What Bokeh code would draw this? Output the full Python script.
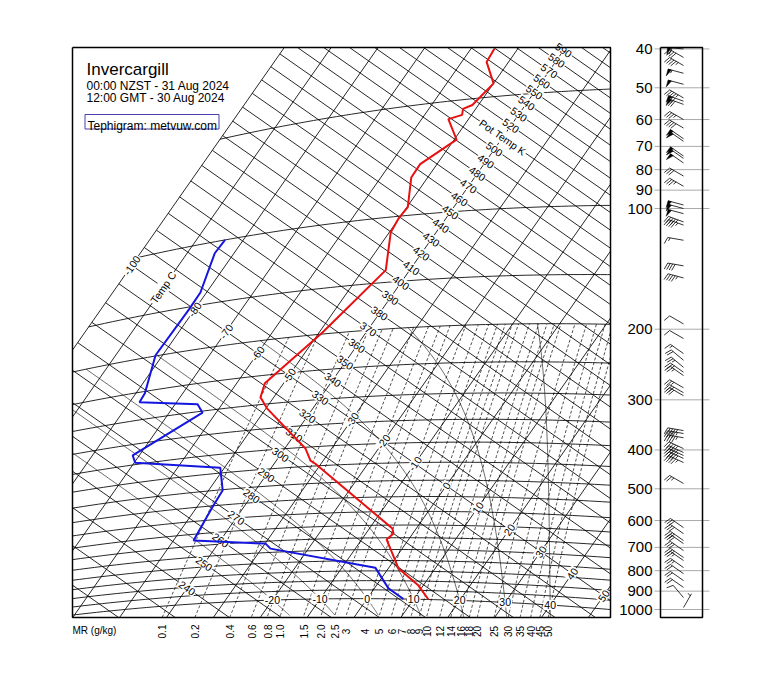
import numpy as np
from bokeh.plotting import figure
from bokeh.embed import file_html
from bokeh.resources import INLINE
from bokeh.core.properties import value

W, H = 760, 690
FONT = value("Liberation Sans")

# ---------------- sounding data ----------------
temp_p = [1000, 924, 838, 824, 707, 683, 663, 444, 435, 403, 309, 293, 287, 263, 198,
          139, 110, 101, 95, 79, 73, 64, 56, 55, 53, 52, 46, 40, 37]
temp_c = [13.2, 9.0, 2.2, 1.5, -4.7, -4.1, -5.1, -31.2, -32.7, -35.6, -49.7, -51.9, -52.8,
          -54.0, -49.3, -45.1, -49.7, -50.1, -49.8, -53.5, -53.6, -49.5, -54.3, -52.0,
          -52.7, -51.3, -50.0, -54.7, -55.0]
dewp_p = [1000, 941, 834, 733, 710, 676, 566, 502, 435, 395, 376, 303, 286, 267, 253,
          199, 152, 138, 108, 100]
dewp_c = [7.8, 3.0, -2.9, -28.1, -29.9, -45.7, -46.6, -47.0, -50.9, -69.8, -71.4, -62.9,
          -65.2, -77.9, -78.1, -81.5, -81.2, -81.3, -84.1, -83.9]

# winds (pressure hPa, direction deg, speed kt)
wind_p = [40, 42, 44, 46, 49, 53, 54, 55, 60, 63, 67, 68, 74, 75, 77, 83, 88, 98, 100,
          103, 108, 110, 120, 139, 149, 194, 211, 230, 239, 249, 256, 261, 280, 288, 293,
          358, 364, 373, 397, 406, 413, 420, 430, 485, 625, 647, 673, 685, 713, 742, 755,
          786, 814, 847, 881, 934, 989]
wind_dir = [275, 300, 300, 285, 285, 300, 290, 290, 300, 300, 305, 305, 305, 305, 305,
            300, 300, 285, 285, 285, 290, 290, 280, 280, 285, 300, 300, 305, 310, 310,
            305, 305, 300, 300, 300, 280, 280, 280, 295, 295, 295, 295, 295, 300, 305,
            305, 305, 305, 305, 305, 305, 305, 305, 305, 305, 320, 30]
wind_kt = [60, 40, 45, 55, 50, 45, 70, 70, 35, 40, 50, 50, 50, 50, 50, 30, 35, 50, 50,
           50, 45, 45, 15, 40, 45, 10, 10, 15, 20, 25, 25, 25, 25, 30, 30, 45, 45, 45,
           45, 45, 45, 45, 45, 25, 30, 30, 30, 30, 30, 25, 25, 25, 20, 20, 20, 10, 5]

# ---------------- chart furniture ----------------
isotherms = list(range(-100, 51, 10))
dry_adiabats = list(range(210, 621, 10))
isobars = [1000, 950, 900, 850, 800, 750, 700, 650, 600, 550, 500, 450, 400, 350, 300,
           250, 200, 150, 100, 50]
mixing_ratios = [0.1, 0.2, 0.4, 0.6, 0.8, 1.0, 1.5, 2.0, 2.5, 3, 4, 5, 6, 7, 8, 9, 10,
                 12, 14, 16, 18, 20, 25, 30, 35, 40, 45, 50]
mr_labels = ["0.1", "0.2", "0.4", "0.6", "0.8", "1.0", "1.5", "2.0", "2.5", "3", "4", "5",
             "6", "7", "8", "9", "10", "12", "14", "16", "18", "20", "25", "30", "35",
             "40", "45", "50"]
sat_adiabats = [-20, -10, 0, 10, 20, 30, 40]
pressure_labels = [40, 50, 60, 70, 80, 90, 100, 200, 300, 400, 500, 600, 700, 800, 900, 1000]
temp_label_vals = [-100, -90, -80, -70, -60, -50, -30, -20, -10, 0, 10, 20, 30, 40, 50]
theta_label_vals = list(range(240, 591, 10))

# ---------------- tephigram geometry ----------------
KAPPA = 0.2857
ALPHA = np.radians(35.0)
A_T = 3.84     # px per degC
B_L = 730.0    # px per unit ln(theta)
OX, OY = 320.0, 397.0   # screen position of T=-40C, theta=330K
BOX = (72.0, 610.0, 47.0, 617.0)


def teph(T, th):
    T = np.asarray(T, float)
    th = np.asarray(th, float)
    s = A_T * (T + 40.0)
    r = B_L * np.log(th / 330.0)
    X = OX + s * np.cos(ALPHA) + r * np.sin(ALPHA)
    Y = OY + s * np.sin(ALPHA) - r * np.cos(ALPHA)
    return X, Y


def theta(T, p):
    return (np.asarray(T, float) + 273.15) * (1000.0 / np.asarray(p, float)) ** KAPPA


def es(Tc):
    return 6.112 * np.exp(17.67 * Tc / (Tc + 243.5))


def clip_seg(x0, y0, x1, y1, xmin, xmax, ymin, ymax):
    dx, dy = x1 - x0, y1 - y0
    t0, t1 = 0.0, 1.0
    for pp, qq in ((-dx, x0 - xmin), (dx, xmax - x0), (-dy, y0 - ymin), (dy, ymax - y0)):
        if pp == 0:
            if qq < 0:
                return None
        else:
            t = qq / pp
            if pp < 0:
                if t > t1:
                    return None
                t0 = max(t0, t)
            else:
                if t < t0:
                    return None
                t1 = min(t1, t)
    return t0, t1


def clip_poly(X, Y, box=BOX):
    pieces, cur = [], None
    for i in range(len(X) - 1):
        r = clip_seg(X[i], Y[i], X[i + 1], Y[i + 1], *box)
        if r is None:
            if cur:
                pieces.append(cur)
            cur = None
            continue
        t0, t1 = r
        ax = X[i] + t0 * (X[i + 1] - X[i]); ay = Y[i] + t0 * (Y[i + 1] - Y[i])
        bx = X[i] + t1 * (X[i + 1] - X[i]); by = Y[i] + t1 * (Y[i + 1] - Y[i])
        if cur is None or t0 > 1e-9:
            if cur:
                pieces.append(cur)
            cur = ([ax, bx], [ay, by])
        else:
            cur[0].append(bx); cur[1].append(by)
        if t1 < 1 - 1e-9:
            pieces.append(cur)
            cur = None
    if cur:
        pieces.append(cur)
    return pieces


def add_lines(store, X, Y):
    for px, py in clip_poly(list(X), list(Y)):
        store[0].append(px)
        store[1].append([H - v for v in py])


solid = ([], [])
dashed = ([], [])

for T in isotherms:
    th = np.array([150.0, 900.0])
    X, Y = teph([T, T], th)
    add_lines(solid, X, Y)

for th in dry_adiabats:
    X, Y = teph([-100.0, 70.0], [th, th])
    add_lines(solid, X, Y)

for pr in isobars:
    Ts = np.linspace(-100, 70, 120)
    X, Y = teph(Ts, theta(Ts, pr))
    add_lines(solid, X, Y)

mr_x = []
for w in mixing_ratios:
    ps = np.linspace(1100, 200, 120)
    e = w * ps / (622.0 + w)
    lg = np.log(e / 6.112)
    Ts = 243.5 * lg / (17.67 - lg)
    X, Y = teph(Ts, theta(Ts, ps))
    for px, py in clip_poly(list(X), list(Y)):
        dashed[0].append(px)
        dashed[1].append([H - v for v in py])
    mr_x.append(float(np.interp(BOX[3], Y[::-1], X[::-1])))


def moist(tw):
    Rd, Cp, Lv, eps = 287.04, 1005.7, 2.501e6, 0.622

    def f(Tc, lnp):
        p = np.exp(lnp)
        Tk = Tc + 273.15
        rs = eps * es(Tc) / (p - es(Tc))
        return (Rd * Tk + Lv * rs) / (Cp + Lv * Lv * rs * eps / (Rd * Tk * Tk))

    out = []
    for target in (np.log(1100.0), np.log(200.0)):
        n = 200
        h = (target - np.log(1000.0)) / n
        Tc, lnp = float(tw), np.log(1000.0)
        pts = [(Tc, lnp)]
        for _ in range(n):
            k1 = f(Tc, lnp)
            k2 = f(Tc + 0.5 * h * k1, lnp + 0.5 * h)
            Tc = Tc + h * k2
            lnp = lnp + h
            pts.append((Tc, lnp))
        out.append(pts)
    pts = out[0][::-1] + out[1][1:]
    Ts = np.array([q[0] for q in pts])
    ps = np.exp(np.array([q[1] for q in pts]))
    return Ts, ps


moist_lines = ([], [])
for tw in sat_adiabats:
    Ts, ps = moist(tw)
    X, Y = teph(Ts, theta(Ts, ps))
    add_lines(moist_lines, X, Y)

# ---------------- figure ----------------
p = figure(width=W, height=H, x_range=(0, W), y_range=(0, H), toolbar_location=None,
           output_backend="svg", x_axis_location=None, y_axis_location=None,
           min_border=0)
p.grid.visible = False
p.outline_line_color = None
p.background_fill_color = "white"

p.multi_line(dashed[0], dashed[1], line_color="black", line_width=0.7, line_dash="3 2")
p.multi_line(solid[0], solid[1], line_color="black", line_width=0.85)
p.multi_line(moist_lines[0], moist_lines[1], line_color="black", line_width=0.6)

LBL = "10.5px"
# labels along the theta=330 adiabat (temperature)
lab_T = [v for v in temp_label_vals]
tx, ty = teph(lab_T, [330.0] * len(lab_T))
ttxt = ["Temp C" if v == -90 else str(v) for v in lab_T]
ang_iso = np.pi / 2 - ALPHA
p.text(x=list(tx), y=list(H - ty), text=ttxt, angle=ang_iso, text_align="center",
       text_baseline="middle", text_font=FONT, text_font_size=LBL, text_color="black",
       background_fill_color="white", padding=1)

# labels along the T=-40 isotherm (potential temperature)
thx, thy = teph([-40.0] * len(theta_label_vals), theta_label_vals)
thtxt = ["Pot Temp K" if v == 510 else str(v) for v in theta_label_vals]
p.text(x=list(thx), y=list(H - thy), text=thtxt, angle=-ALPHA, text_align="center",
       text_baseline="middle", text_font=FONT, text_font_size=LBL, text_color="black",
       background_fill_color="white", padding=1)

# wet-bulb labels on the 1000 hPa isobar
wx, wy = teph(sat_adiabats, theta(sat_adiabats, 1000))
p.text(x=list(wx), y=list(H - wy), text=[str(v) for v in sat_adiabats], text_align="center",
       text_baseline="middle", text_font=FONT, text_font_size=LBL, text_color="black",
       background_fill_color="white", padding=1)

# sounding
Tx, Ty = teph(temp_c, theta(temp_c, temp_p))
p.line(list(Tx), list(H - Ty), line_color="#e81010", line_width=2)
Dx, Dy = teph(dewp_c, theta(dewp_c, dewp_p))
p.line(list(Dx), list(H - Dy), line_color="#1515e0", line_width=2)

# frame
p.line([BOX[0], BOX[1], BOX[1], BOX[0], BOX[0]],
       [H - BOX[2], H - BOX[2], H - BOX[3], H - BOX[3], H - BOX[2]],
       line_color="black", line_width=1.5)

# mixing ratio labels
p.text(x=mr_x, y=[H - 631] * len(mr_x), text=mr_labels, angle=np.pi / 2,
       text_align="center", text_baseline="middle", text_font=FONT,
       text_font_size="10px", text_color="black")
p.text(x=[72], y=[H - 630], text=["MR (g/kg)"], text_align="left", text_baseline="middle",
       text_font=FONT, text_font_size="10px", text_color="black")


# pressure scale and wind panel
def p_y(pr):
    return 208.0 + 401.0 * np.log10(np.asarray(pr, float) / 100.0)


py_ = p_y(pressure_labels)
p.segment(x0=[654] * len(py_), y0=list(H - py_), x1=[709] * len(py_), y1=list(H - py_),
          line_color="#aaaaaa", line_width=1)
p.text(x=[652] * len(py_), y=list(H - py_), text=[str(v) for v in pressure_labels],
       text_align="right", text_baseline="middle", text_font=FONT,
       text_font_size="15px", text_color="black")
p.line([660, 702, 702, 660, 660], [H - 47, H - 47, H - 617, H - 617, H - 47],
       line_color="black", line_width=1.5)

# wind barbs
bx, by = [], []
pen_x, pen_y = [], []
for pr, d, spd in zip(wind_p, wind_dir, wind_kt):
    xs, ys = 683.0, float(p_y(pr))
    dr = np.radians(d)
    ux, uy = np.sin(dr), -np.cos(dr)
    qx, qy = -np.cos(dr), -np.sin(dr)
    L, F = 16.0, 7.0
    tipx, tipy = xs + L * ux, ys + L * uy
    bx.append([xs, tipx]); by.append([H - ys, H - tipy])
    n50 = int(spd // 50); n10 = int((spd % 50) // 10); n5 = 1 if spd % 10 >= 5 else 0
    t = L
    fx, fy = 0.94 * qx + 0.34 * ux, 0.94 * qy + 0.34 * uy
    for _ in range(n50):
        a = (xs + t * ux, ys + t * uy)
        b = (xs + (t - 3.5) * ux, ys + (t - 3.5) * uy)
        c = (a[0] + F * qx, a[1] + F * qy)
        pen_x.append([a[0], b[0], c[0]]); pen_y.append([H - a[1], H - b[1], H - c[1]])
        t -= 4.5
    for _ in range(n10):
        a = (xs + t * ux, ys + t * uy)
        bx.append([a[0], a[0] + F * fx]); by.append([H - a[1], H - (a[1] + F * fy)])
        t -= 2.5
    if n5:
        if n50 == 0 and n10 == 0:
            t -= 2.5
        a = (xs + t * ux, ys + t * uy)
        bx.append([a[0], a[0] + 0.5 * F * fx]); by.append([H - a[1], H - (a[1] + 0.5 * F * fy)])
p.multi_line(bx, by, line_color="black", line_width=0.8)
p.patches(pen_x, pen_y, fill_color="black", line_color="black", line_width=0.5)

# title block
p.text(x=[86], y=[H - 69], text=["Invercargill"], text_font=FONT, text_font_size="17px",
       text_baseline="alphabetic", text_color="black")
p.text(x=[86, 86], y=[H - 85, H - 97], text=["00:00 NZST - 31 Aug 2024", "12:00 GMT - 30 Aug 2024"],
       text_font=FONT, text_font_size="12px", text_baseline="alphabetic", text_color="black")
p.line([84.5, 218.5, 218.5, 84.5, 84.5], [H - 114, H - 114, H - 128.5, H - 128.5, H - 114],
       line_color="#4a3fb0", line_width=1)
p.text(x=[87], y=[H - 125], text=["Tephigram: metvuw.com"], text_font=FONT,
       text_font_size="12px", text_baseline="alphabetic", text_color="black")

open("out.html", "w").write(file_html(p, INLINE))
